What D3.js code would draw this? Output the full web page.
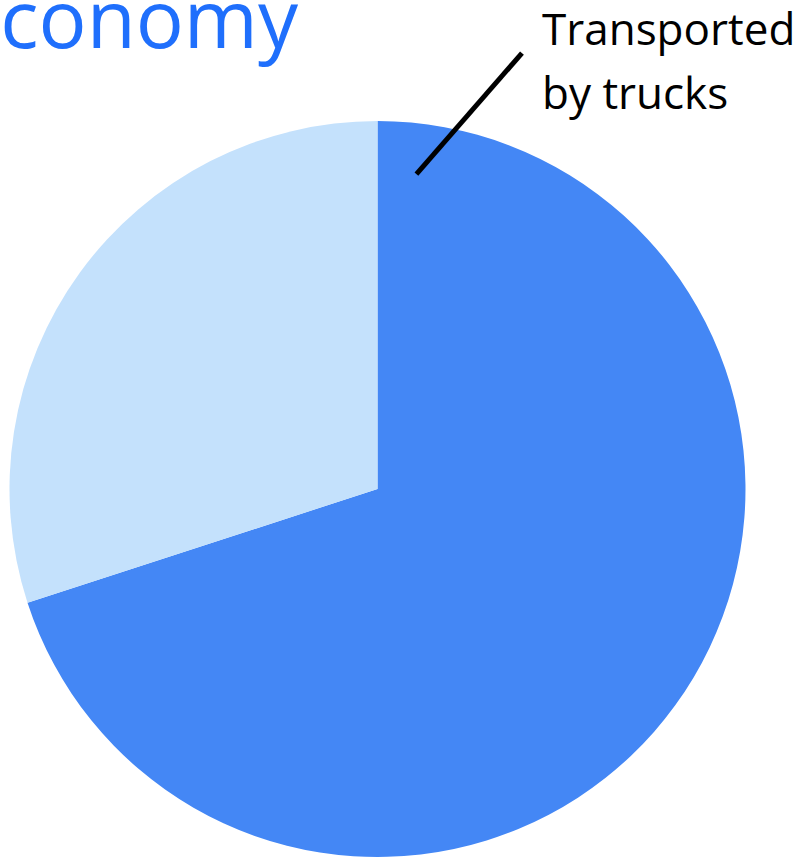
<!DOCTYPE html>
<html>
<head>
<meta charset="utf-8">
<script src="https://cdn.jsdelivr.net/npm/d3@7"></script>
<style>
  html, body { margin: 0; padding: 0; background: #fff; }
  svg { display: block; }
</style>
</head>
<body>
<div id="chart"></div>
<script>
// pie data
const categories = ["Transported by trucks", "Other"];
const shares = [70, 30];
const colors = ["#4487f5", "#c4e1fc"];
const titleText = "Economy";
const labelLines = ["Transported", "by trucks"];

const width = 798;
const height = 858;
const cx = 377.5, cy = 489, radius = 368;

const svg = d3.select("#chart")
    .append("svg")
    .attr("width", width)
    .attr("height", height);

const pie = d3.pie().sort(null).value(d => d.value);
const arc = d3.arc().innerRadius(0).outerRadius(radius);

const data = categories.map((c, i) => ({ name: c, value: shares[i], color: colors[i] }));

const g = svg.append("g").attr("transform", `translate(${cx},${cy})`);

const arcs = pie(data);

g.selectAll("path")
    .data(arcs)
    .enter()
    .append("path")
    .attr("d", arc)
    .attr("fill", d => d.data.color);

// leader line for the trucks slice
const a0 = arcs[0].startAngle + 0.123;
const a1 = arcs[0].startAngle + 0.32;
const p0 = [Math.sin(a0) * radius * 0.862, -Math.cos(a0) * radius * 0.862];
const p1 = [Math.sin(a1) * radius * 1.248, -Math.cos(a1) * radius * 1.248];

g.append("line")
    .attr("x1", p0[0]).attr("y1", p0[1])
    .attr("x2", p1[0]).attr("y2", p1[1])
    .attr("stroke", "#000")
    .attr("stroke-width", 5);

const label = svg.append("text")
    .attr("x", 542)
    .attr("y", 45)
    .attr("font-family", "'Open Sans', 'Noto Sans', sans-serif")
    .attr("font-size", 44)
    .attr("fill", "#000");

label.selectAll("tspan")
    .data(labelLines)
    .enter()
    .append("tspan")
    .attr("x", 542)
    .attr("dy", (d, i) => i === 0 ? 0 : 64)
    .text(d => d);

// title, cut off by the left edge
svg.append("text")
    .attr("x", 298)
    .attr("y", 48)
    .attr("text-anchor", "end")
    .attr("font-family", "'Open Sans', 'Noto Sans', sans-serif")
    .attr("font-size", 80)
    .attr("fill", "#1f6ffc")
    .text(titleText);
</script>
</body>
</html>
